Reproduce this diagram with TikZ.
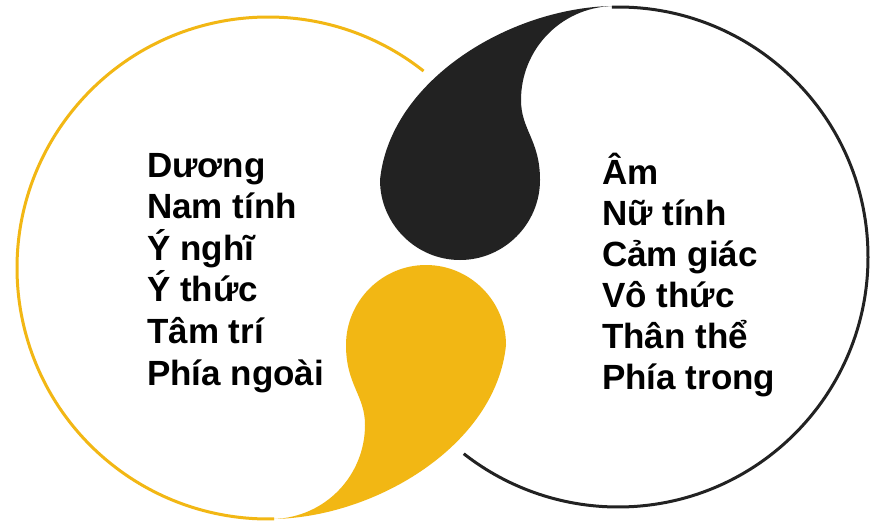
\documentclass[tikz,border=0pt]{standalone}
\usepackage{fontspec}
\setmainfont{Liberation Sans}
\definecolor{yel}{HTML}{F2B714}
\definecolor{blk}{HTML}{222222}
\begin{document}
\begin{tikzpicture}[x=1pt,y=-1pt,
  lbl/.style={anchor=base west, inner sep=0pt, font=\fontsize{35}{41}\selectfont\bfseries, text=black},
  ring/.style={line width=3pt}]
\useasboundingbox (0,0) rectangle (890,530);
\fill[white] (0,0) rectangle (890,530);
% circles
\draw[ring, yel] (268,268) ++(-51.7:251) arc[start angle=-51.7, end angle=-271.4, radius=251];
\draw[ring, blk] (618,257) ++(-91.4:250) arc[start angle=-91.4, end angle=128.1, radius=250];
% black drop
\fill[blk] (612,6) .. controls (510,8) and (390,80) .. (380,180)
  .. controls (380,224) and (416,260) .. (460,260)
  .. controls (504,260) and (540,224) .. (540,180)
  .. controls (540,140) and (521,130) .. (521,100)
  .. controls (521,50) and (560,8) .. (612,6) -- cycle;
% yellow drop
\begin{scope}[rotate around={180:(443,262.5)}]
\fill[yel] (612,6) .. controls (510,8) and (390,80) .. (380,180)
  .. controls (380,224) and (416,260) .. (460,260)
  .. controls (504,260) and (540,224) .. (540,180)
  .. controls (540,140) and (521,130) .. (521,100)
  .. controls (521,50) and (560,8) .. (612,6) -- cycle;
\end{scope}
% texts
\node[lbl] (l1) at (147,177) {Dương};
\node[lbl] (l2) at (147,218.6) {Nam tính};
\node[lbl] (l3) at (147,260.2) {Ý nghĩ};
\node[lbl] (l4) at (147,301.8) {Ý thức};
\node[lbl] (l5) at (147,343.4) {Tâm trí};
\node[lbl] (l6) at (147,385) {Phía ngoài};
\node[lbl] (r1) at (602,184) {Âm};
\node[lbl] (r2) at (602,225) {Nữ tính};
\node[lbl] (r3) at (602,266) {Cảm giác};
\node[lbl] (r4) at (602,307) {Vô thức};
\node[lbl] (r5) at (602,348) {Thân thể};
\node[lbl] (r6) at (602,389) {Phía trong};
\end{tikzpicture}
\end{document}
